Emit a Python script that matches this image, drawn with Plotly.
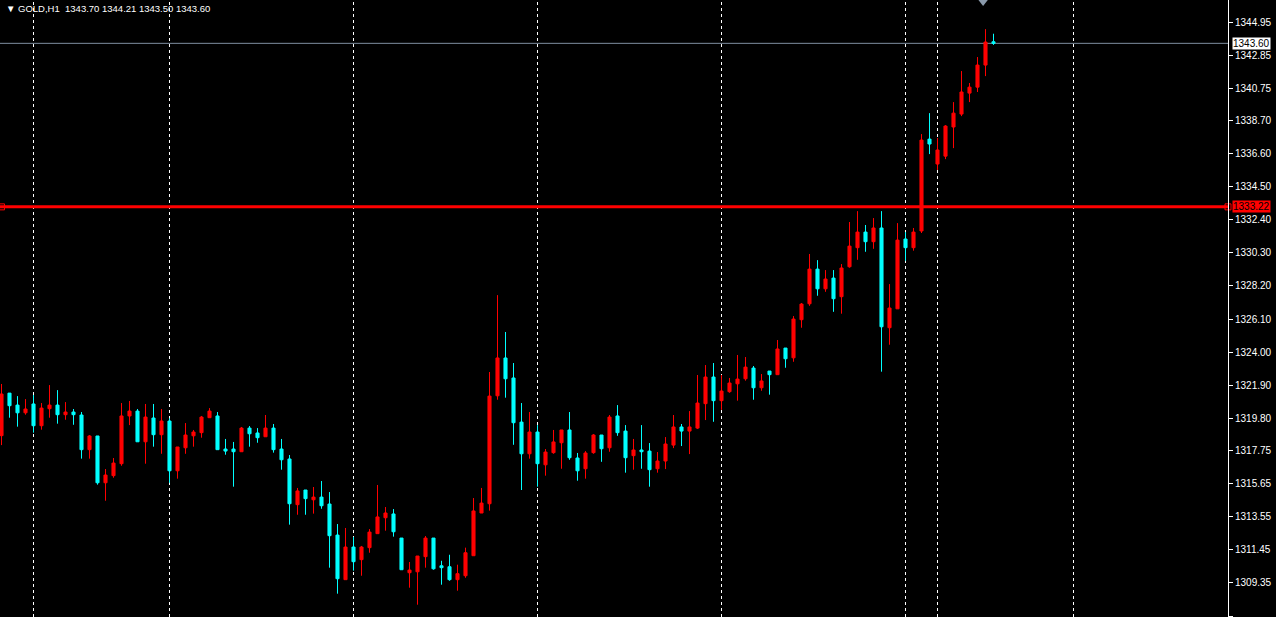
import plotly.graph_objects as go

symbol = "GOLD,H1"
header_ohlc = ["1343.70", "1344.21", "1343.50", "1343.60"]

opens = [1318.70, 1321.40, 1320.64, 1320.15, 1320.71, 1319.33, 1320.41, 1320.64, 1320.03, 1320.20,
         1320.01, 1317.81, 1318.68, 1315.71, 1316.16, 1316.92, 1319.95, 1320.26, 1318.31, 1319.82,
         1318.76, 1319.63, 1316.47, 1317.93, 1318.69, 1318.89, 1319.84, 1319.95, 1317.85, 1317.85,
         1317.68, 1319.18, 1318.87, 1318.63, 1319.18, 1317.85, 1317.22, 1314.32, 1315.25, 1314.63,
         1314.80, 1314.36, 1312.39, 1309.56, 1311.63, 1310.83, 1311.59, 1312.48, 1313.49, 1313.73,
         1312.20, 1310.00, 1310.06, 1311.02, 1312.20, 1310.44, 1310.38, 1309.56, 1309.81, 1311.08,
         1313.79, 1314.38, 1321.23, 1323.63, 1322.36, 1319.56, 1317.55, 1318.93, 1316.85, 1317.62,
         1318.25, 1319.06, 1317.28, 1316.60, 1317.62, 1318.74, 1317.93, 1319.95, 1318.99, 1317.43,
         1317.79, 1317.72, 1316.60, 1317.09, 1318.10, 1319.25, 1318.99, 1319.18, 1320.73, 1322.42,
         1320.92, 1321.49, 1321.99, 1322.31, 1322.99, 1321.74, 1322.80, 1322.57, 1324.26, 1323.64,
         1326.06, 1327.07, 1329.27, 1328.02, 1328.70, 1327.52, 1329.42, 1330.63, 1331.62, 1331.01,
         1331.88, 1325.55, 1326.75, 1331.18, 1330.63, 1331.69, 1337.52, 1335.94, 1336.44, 1338.29,
         1339.11, 1340.44, 1340.82, 1342.22, 1343.70]

highs = [1321.98, 1321.40, 1321.21, 1321.02, 1321.28, 1320.77, 1321.91, 1321.59, 1320.83, 1320.39,
         1320.20, 1318.74, 1318.68, 1316.58, 1317.28, 1320.77, 1320.90, 1320.39, 1320.71, 1320.71,
         1320.39, 1319.80, 1317.98, 1319.50, 1319.06, 1319.95, 1320.45, 1320.20, 1318.49, 1318.30,
         1319.25, 1319.31, 1319.18, 1320.01, 1319.44, 1318.49, 1317.47, 1315.38, 1315.25, 1315.44,
         1315.82, 1315.12, 1313.09, 1312.84, 1312.27, 1311.70, 1312.77, 1315.57, 1314.17, 1314.04,
         1312.20, 1310.68, 1311.06, 1312.33, 1312.20, 1310.76, 1311.14, 1310.51, 1311.59, 1314.74,
         1315.38, 1322.74, 1327.62, 1325.28, 1323.31, 1320.77, 1320.20, 1319.37, 1317.85, 1319.06,
         1319.06, 1320.20, 1317.60, 1317.72, 1318.80, 1318.74, 1320.01, 1320.64, 1319.37, 1318.49,
         1319.37, 1318.23, 1317.66, 1318.61, 1320.01, 1319.44, 1320.26, 1322.55, 1323.18, 1323.31,
         1322.55, 1322.36, 1323.82, 1323.69, 1323.12, 1322.61, 1322.80, 1324.77, 1324.26, 1326.29,
         1327.12, 1330.23, 1329.84, 1329.21, 1329.21, 1329.59, 1332.26, 1332.95, 1332.07, 1332.51,
         1332.95, 1328.32, 1332.19, 1331.62, 1331.88, 1337.84, 1339.17, 1337.59, 1338.41, 1339.87,
         1341.84, 1341.08, 1342.73, 1344.50, 1344.21]

lows = [1318.10, 1319.84, 1319.27, 1320.03, 1318.89, 1319.08, 1319.84, 1319.46, 1319.71, 1319.39,
        1317.24, 1317.24, 1315.59, 1314.57, 1316.03, 1316.79, 1319.37, 1318.31, 1316.92, 1318.00,
        1317.55, 1315.71, 1315.97, 1317.55, 1318.00, 1318.57, 1319.84, 1317.81, 1317.49, 1315.46,
        1317.68, 1318.00, 1318.25, 1318.63, 1317.62, 1316.54, 1313.05, 1313.68, 1313.68, 1313.75,
        1314.06, 1310.32, 1308.67, 1309.56, 1310.13, 1309.81, 1311.27, 1312.48, 1312.67, 1312.29,
        1310.19, 1309.05, 1307.97, 1310.32, 1310.19, 1309.24, 1309.49, 1308.86, 1309.68, 1311.08,
        1313.79, 1313.94, 1320.98, 1321.11, 1318.12, 1315.25, 1317.24, 1315.46, 1316.16, 1317.55,
        1316.60, 1317.17, 1315.84, 1315.97, 1317.55, 1317.04, 1317.68, 1318.69, 1316.35, 1316.54,
        1316.60, 1315.46, 1316.35, 1316.58, 1317.91, 1318.04, 1317.53, 1319.12, 1319.69, 1319.58,
        1320.34, 1321.42, 1320.92, 1322.19, 1320.98, 1321.55, 1321.30, 1322.57, 1323.01, 1323.39,
        1325.55, 1326.94, 1327.58, 1327.83, 1326.56, 1326.44, 1329.36, 1329.86, 1330.37, 1330.56,
        1322.76, 1324.47, 1326.75, 1329.80, 1330.44, 1331.56, 1336.57, 1335.56, 1336.25, 1336.95,
        1338.98, 1339.87, 1340.51, 1341.52, 1343.50]

closes = [1321.34, 1320.60, 1320.15, 1320.39, 1319.33, 1320.45, 1320.64, 1320.03, 1320.20, 1320.03,
          1317.81, 1318.68, 1315.71, 1316.20, 1316.96, 1319.95, 1320.26, 1318.31, 1319.88, 1318.76,
          1319.63, 1316.47, 1317.98, 1318.74, 1318.93, 1319.88, 1320.26, 1317.81, 1317.72, 1317.68,
          1319.18, 1318.82, 1318.57, 1319.18, 1317.81, 1317.17, 1314.38, 1315.19, 1314.70, 1314.80,
          1314.25, 1312.35, 1309.62, 1311.63, 1310.70, 1311.63, 1312.58, 1313.54, 1313.79, 1312.60,
          1310.19, 1310.17, 1311.06, 1312.20, 1310.25, 1310.32, 1309.56, 1309.94, 1311.27, 1313.92,
          1314.42, 1321.21, 1323.63, 1322.31, 1319.52, 1317.55, 1318.93, 1316.92, 1317.66, 1318.30,
          1319.06, 1317.30, 1316.47, 1317.60, 1318.74, 1317.87, 1319.88, 1318.89, 1317.30, 1317.79,
          1317.68, 1316.54, 1317.09, 1318.17, 1319.25, 1318.99, 1319.25, 1320.77, 1322.42, 1320.92,
          1321.53, 1322.04, 1322.29, 1323.05, 1321.74, 1322.17, 1322.57, 1324.20, 1323.58, 1326.10,
          1327.05, 1329.27, 1328.02, 1328.64, 1327.39, 1329.34, 1330.73, 1331.62, 1331.01, 1331.88,
          1325.61, 1326.80, 1331.11, 1330.63, 1331.62, 1337.46, 1337.21, 1336.83, 1338.35, 1339.17,
          1340.51, 1340.82, 1342.22, 1343.68, 1343.60]

bars = list(range(len(opens)))

tick_values = [1344.95, 1342.85, 1340.75, 1338.70, 1336.60, 1334.50, 1332.40, 1330.30, 1328.20,
               1326.10, 1324.00, 1321.90, 1319.80, 1317.75, 1315.65, 1313.55, 1311.45, 1309.35, 1307.25]
tick_labels = ["%.2f" % v for v in tick_values]

separator_bars = [4, 21, 44, 67, 90, 113, 117, 134]
hline_level = 1333.22
current_price = 1343.60
arrow_bar = 122.7

x_range = [-0.1875, 153.3125]
y_range = [1307.19, 1346.35]

fig = go.Figure()

fig.add_trace(go.Candlestick(
    x=bars, open=opens, high=highs, low=lows, close=closes,
    increasing=dict(line=dict(color="#ff0000", width=1), fillcolor="#ff0000"),
    decreasing=dict(line=dict(color="#00ffff", width=1), fillcolor="#00ffff"),
    whiskerwidth=0, showlegend=False, hoverinfo="skip",
))

# horizontal line end markers
fig.add_trace(go.Scatter(
    x=[x_range[0] + 0.19, x_range[1]], y=[hline_level, hline_level],
    mode="markers", marker=dict(symbol="square-open", size=6, color="#ff0000", line=dict(width=1)),
    cliponaxis=False, showlegend=False, hoverinfo="skip",
))

# small grey arrow at top
fig.add_trace(go.Scatter(
    x=[arrow_bar], y=[y_range[1] - 0.1],
    mode="markers", marker=dict(symbol="triangle-down", size=9, color="#8a99aa"),
    cliponaxis=False, showlegend=False, hoverinfo="skip",
))

shapes = []
for b in separator_bars:
    shapes.append(dict(type="line", xref="x", yref="paper", x0=b, x1=b, y0=0, y1=1,
                       line=dict(color="#ffffff", width=1, dash="3px,3px"), layer="below"))
shapes.append(dict(type="line", xref="paper", yref="y", x0=0, x1=1, y0=current_price, y1=current_price,
                   line=dict(color="#7f8fa0", width=1), layer="below"))
shapes.append(dict(type="line", xref="paper", yref="y", x0=0, x1=1, y0=hline_level, y1=hline_level,
                   line=dict(color="#ff0000", width=3), layer="above"))

annotations = [
    dict(xref="paper", yref="paper", x=0.003, y=0.999, xanchor="left", yanchor="top",
         text="\u25bc " + symbol + "  " + " ".join(header_ohlc), showarrow=False,
         font=dict(family="Liberation Sans, Arial", size=9.5, color="#ffffff")),
    dict(xref="paper", yref="y", x=1.0, y=hline_level, xanchor="left", yanchor="middle", xshift=4,
         text="%.2f" % hline_level, showarrow=False, bgcolor="#ff0000", borderpad=0,
         font=dict(family="Liberation Sans, Arial", size=10, color="#000000")),
    dict(xref="paper", yref="y", x=1.0, y=current_price, xanchor="left", yanchor="middle", xshift=4,
         text="%.2f" % current_price, showarrow=False, bgcolor="#ffffff", borderpad=0,
         font=dict(family="Liberation Sans, Arial", size=10, color="#000000")),
]

fig.update_layout(
    width=1276, height=617,
    margin=dict(l=0, r=48, t=0, b=0, autoexpand=False),
    paper_bgcolor="#000000", plot_bgcolor="#000000",
    boxgap=0.45,
    shapes=shapes, annotations=annotations,
    xaxis=dict(range=x_range, showgrid=False, zeroline=False, showticklabels=False,
               rangeslider=dict(visible=False), fixedrange=True),
    yaxis=dict(range=y_range, side="right", showgrid=False, zeroline=False,
               tickvals=tick_values, ticktext=tick_labels, ticks="outside", ticklen=4,
               tickcolor="#ffffff", showline=True, linecolor="#ffffff", linewidth=1,
               tickfont=dict(family="Liberation Sans, Arial", size=10, color="#ffffff"),
               fixedrange=True, automargin=False),
    hovermode=False,
)

fig.write_html("out.html", config={"displayModeBar": False},
               post_script="document.body.style.margin='0';document.body.style.background='#000';")
